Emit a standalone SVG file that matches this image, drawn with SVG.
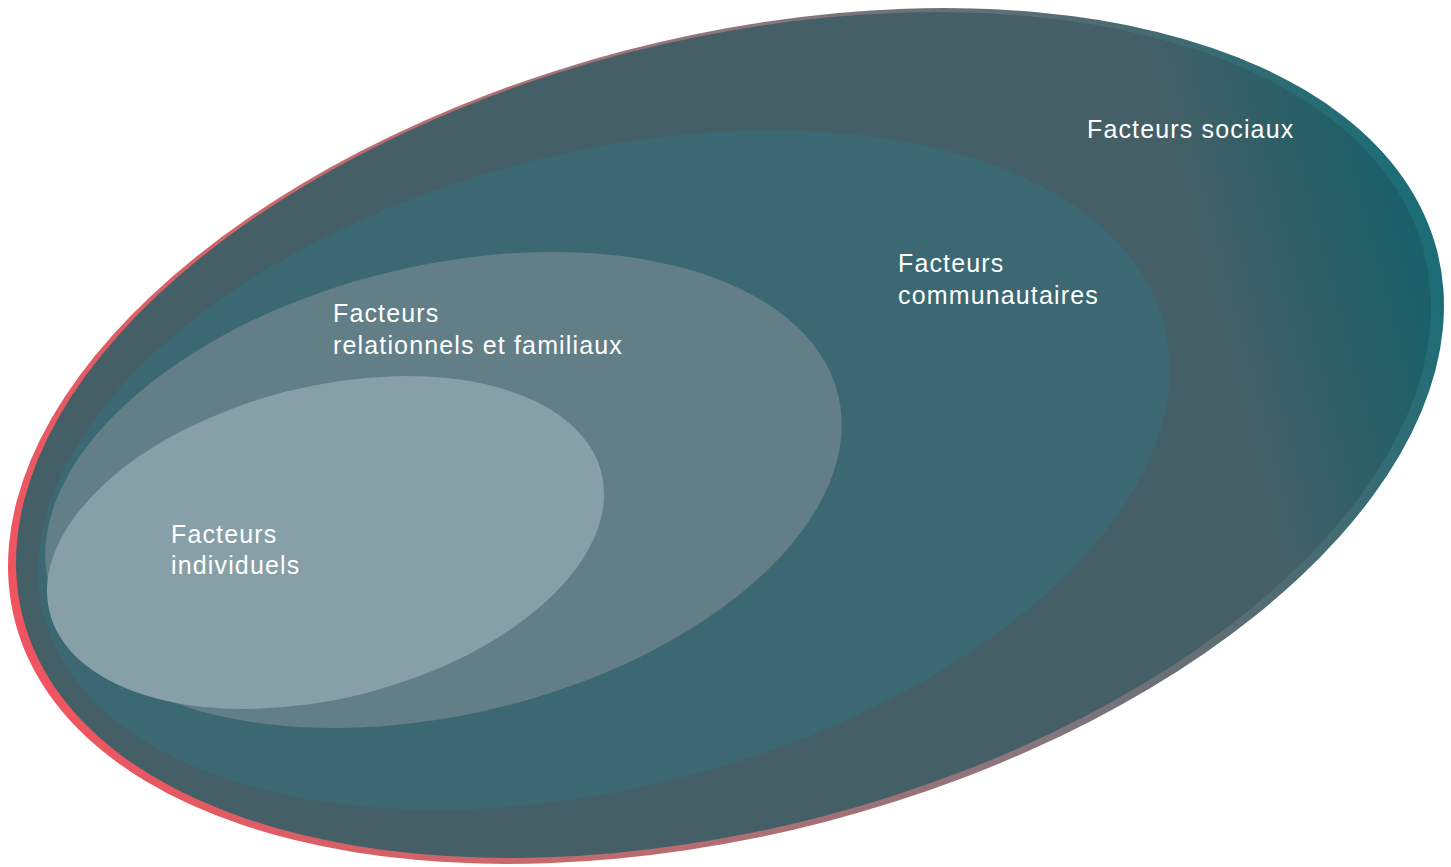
<svg xmlns="http://www.w3.org/2000/svg" width="1451" height="867" viewBox="0 0 1451 867">
  <defs>
    <linearGradient id="gBack" gradientUnits="userSpaceOnUse" x1="8" y1="500" x2="1444" y2="380">
      <stop offset="0" stop-color="#ef5561"/>
      <stop offset="0.3" stop-color="#c46a6c"/>
      <stop offset="0.62" stop-color="#8a767d"/>
      <stop offset="0.85" stop-color="#4a6b72"/>
      <stop offset="1" stop-color="#1d6d76"/>
    </linearGradient>
    <linearGradient id="gFront" gradientUnits="userSpaceOnUse" x1="1225" y1="0" x2="1435" y2="0">
      <stop offset="0" stop-color="#455f66"/>
      <stop offset="1" stop-color="#1b5f68"/>
    </linearGradient>
    <style>
      .lbl { font-family: "Liberation Sans", Arial, sans-serif; font-size: 25px; fill: #ffffff; letter-spacing: 1.15px; }
    </style>
  </defs>
  <rect width="1451" height="867" fill="#ffffff"/>

  <g id="facteurs-sociaux">
    <ellipse cx="726" cy="436" rx="734.8" ry="398.4" transform="rotate(-14.66 726 436)" fill="url(#gBack)"/>
    <ellipse cx="723.5" cy="435" rx="724" ry="394" transform="rotate(-14.66 723.5 435)" fill="url(#gFront)"/>
    <text class="lbl" x="1087" y="138">Facteurs sociaux</text>
  </g>

  <g id="facteurs-communautaires">
    <ellipse cx="604" cy="470" rx="578.9" ry="317.5" transform="rotate(-14.55 604 470)" fill="#3b6873"/>
    <text class="lbl" x="898" y="272">Facteurs</text>
    <text class="lbl" x="898" y="304">communautaires</text>
  </g>

  <g id="facteurs-relationnels">
    <ellipse cx="443.5" cy="490" rx="406" ry="224.5" transform="rotate(-13.5 443.5 490)" fill="#627f88"/>
    <text class="lbl" x="333" y="322">Facteurs</text>
    <text class="lbl" x="333" y="354">relationnels et familiaux</text>
  </g>

  <g id="facteurs-individuels">
    <ellipse cx="325.5" cy="542.5" rx="284.6" ry="155.9" transform="rotate(-14.2 325.5 542.5)" fill="#87a0a8"/>
    <text class="lbl" x="171" y="543">Facteurs</text>
    <text class="lbl" x="171" y="574">individuels</text>
  </g>

  <g id="connectors"/>
</svg>
